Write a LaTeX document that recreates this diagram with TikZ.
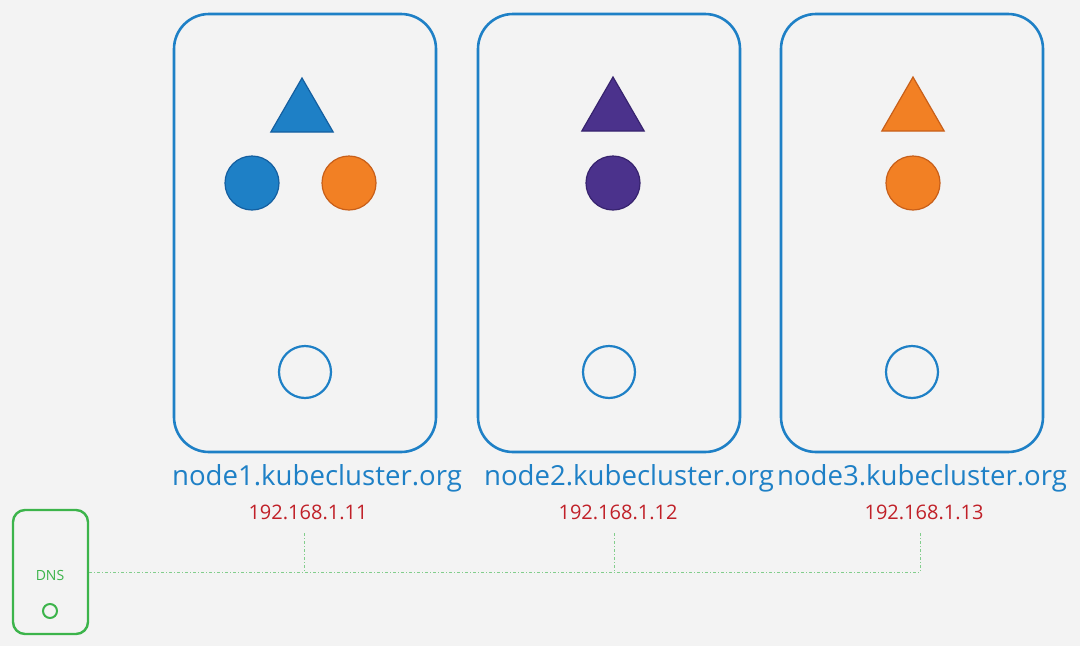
\documentclass[tikz,border=0pt]{standalone}
\usepackage{fontspec}
\setmainfont{Open Sans}
\usetikzlibrary{shapes.geometric}
\definecolor{bg}{RGB}{243,243,243}
\definecolor{kblue}{RGB}{30,128,198}
\definecolor{kbluedk}{RGB}{20,95,160}
\definecolor{korange}{RGB}{242,128,36}
\definecolor{korangedk}{RGB}{200,95,25}
\definecolor{kpurple}{RGB}{75,50,140}
\definecolor{kpurpledk}{RGB}{55,35,110}
\definecolor{kred}{RGB}{192,32,40}
\definecolor{kgreen}{RGB}{60,180,75}
\definecolor{klgreen}{RGB}{130,205,140}
\tikzset{
  hostbox/.style={draw=kblue, line width=2.6pt, rounded corners=35pt, minimum width=262pt, minimum height=438pt, inner sep=0pt},
  pod/.style={circle, minimum size=54pt, inner sep=0pt, line width=1.2pt},
  svc/.style={isosceles triangle, isosceles triangle apex angle=60, shape border rotate=90, minimum height=54pt, inner sep=0pt, line width=1.2pt},
  hollow/.style={circle, draw=kblue, line width=2.2pt, minimum size=52pt, inner sep=0pt},
  hostname/.style={text=kblue, font=\fontsize{27.6}{32}\selectfont, inner sep=0pt},
  ipaddr/.style={text=kred, font=\fontsize{20}{24}\selectfont, inner sep=0pt},
  net/.style={draw=klgreen, line width=1pt, dash pattern=on 3pt off 2pt on 1pt off 2pt},
}
\begin{document}
\begin{tikzpicture}[x=1pt,y=-1pt]
\fill[bg] (0,0) rectangle (1080,646);
\useasboundingbox (0,0) rectangle (1080,646);
% host boxes
\node[hostbox] (h1) at (305,233) {};
\node[hostbox] (h2) at (609,233) {};
\node[hostbox] (h3) at (912,233) {};
% box 1 contents
\node[svc, fill=kblue, draw=kbluedk] (s1) at (302,114) {};
\node[pod, fill=kblue, draw=kbluedk] (p1a) at (252,183) {};
\node[pod, fill=korange, draw=korangedk] (p1b) at (349,183) {};
\node[hollow] (o1) at (305,372) {};
% box 2
\node[svc, fill=kpurple, draw=kpurpledk] (s2) at (613,113) {};
\node[pod, fill=kpurple, draw=kpurpledk] (p2) at (613,183) {};
\node[hollow] (o2) at (609,372) {};
% box 3
\node[svc, fill=korange, draw=korangedk] (s3) at (913,113) {};
\node[pod, fill=korange, draw=korangedk] (p3) at (913,183) {};
\node[hollow] (o3) at (912,372) {};
% labels
\node[hostname] (n1) at (317,478) {node1.kubecluster.org};
\node[hostname] (n2) at (629,478) {node2.kubecluster.org};
\node[hostname] (n3) at (922,478) {node3.kubecluster.org};
\node[ipaddr] (i1) at (308,512) {192.168.1.11};
\node[ipaddr] (i2) at (618,512) {192.168.1.12};
\node[ipaddr] (i3) at (924,512) {192.168.1.13};
% DNS
\node[draw=kgreen, line width=2.4pt, rounded corners=12pt, minimum width=75pt, minimum height=124pt, inner sep=0pt] (dns) at (50.5,572) {};
\node[text=kgreen, font=\fontsize{14}{16}\selectfont, inner sep=0pt] (dnsl) at (50,575) {DNS};
\node[circle, draw=kgreen, line width=2pt, minimum size=14pt, inner sep=0pt] (dnsc) at (50,611) {};
% network
\coordinate (t1) at (304,533);
\coordinate (t2) at (614,533);
\coordinate (t3) at (920,533);
\coordinate (j1) at (304,572);
\coordinate (j2) at (614,572);
\coordinate (j3) at (920,572);
\draw[net] (dns.east |- j1) -- (j1) -- (j2) -- (j3);
\draw[net] (t1) -- (j1);
\draw[net] (t2) -- (j2);
\draw[net] (t3) -- (j3);
\end{tikzpicture}
\end{document}
